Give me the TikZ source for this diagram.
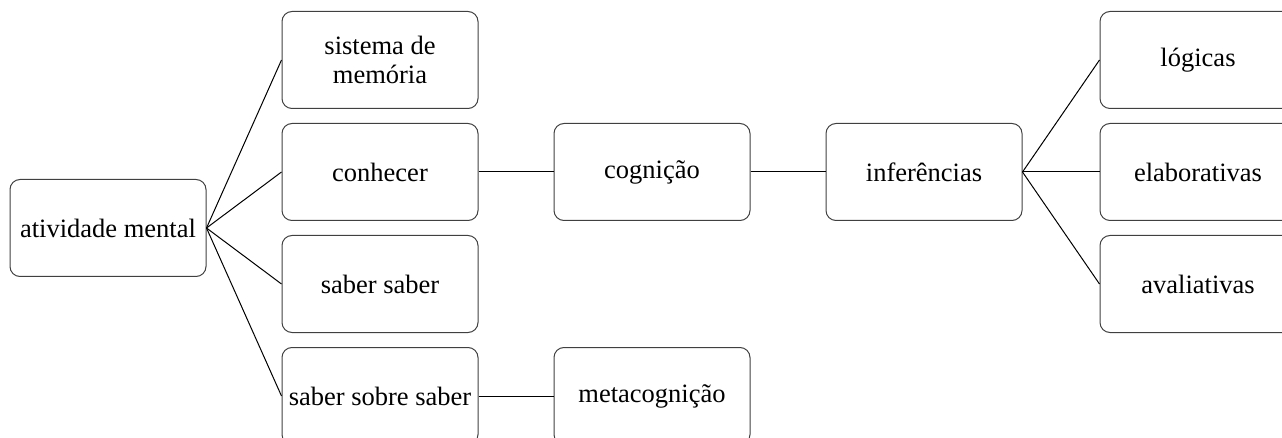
\documentclass[tikz,border=0pt]{standalone}
\usepackage{fontspec}
\setmainfont{Liberation Serif}
\begin{document}
\begin{tikzpicture}[x=1pt,y=-1pt,
  box/.style={draw=black!75, line width=1pt, rounded corners=10pt, minimum width=196pt, minimum height=97pt, inner sep=2pt, align=center, font=\fontsize{26.5}{29}\selectfont, anchor=center},
  link/.style={draw=black, line width=1pt}]
\useasboundingbox (0,0) rectangle (1282,438);
\node[box] (am) at (108,228) {atividade mental};
\node[box] (sm) at (380,60) {sistema de\\memória};
\node[box] (co) at (380,172) {conhecer};
\node[box] (ss) at (380,284) {saber saber};
\node[box] (sss) at (380,396) {saber sobre saber};
\node[box] (cg) at (652,172) {cognição};
\node[box] (mc) at (652,396) {metacognição};
\node[box] (inf) at (924,172) {inferências};
\node[box] (lo) at (1198,60) {lógicas};
\node[box] (el) at (1198,172) {elaborativas};
\node[box] (av) at (1198,284) {avaliativas};
\draw[link] (am.east) -- (sm.west);
\draw[link] (am.east) -- (co.west);
\draw[link] (am.east) -- (ss.west);
\draw[link] (am.east) -- (sss.west);
\draw[link] (co.east) -- (cg.west);
\draw[link] (cg.east) -- (inf.west);
\draw[link] (sss.east) -- (mc.west);
\draw[link] (inf.east) -- (lo.west);
\draw[link] (inf.east) -- (el.west);
\draw[link] (inf.east) -- (av.west);
\end{tikzpicture}
\end{document}
